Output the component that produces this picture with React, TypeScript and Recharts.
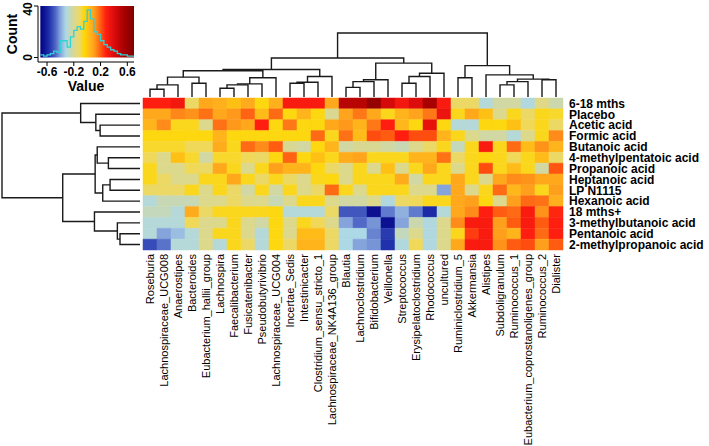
import React from 'react';
import { ScatterChart, Scatter, ComposedChart, Line, XAxis, YAxis, ReferenceArea } from 'recharts';

// column order as in the heatmap (left -> right)
const genera = [
  'Roseburia', 'Lachnospiraceae_UCG008', 'Anaerostipes', 'Bacteroides', 'Eubacterium_hallii_group',
  'Lachnospira', 'Faecalibacterium', 'Fusicatenibacter', 'Pseudobutyrivibrio', 'Lachnospiraceae_UCG004',
  'Incertae_Sedis', 'Intestinicacter', 'Clostridium_sensu_stricto_1', 'Lachnospiraceae_NK4A136_group', 'Blautia',
  'Lachnoclostridium', 'Bifidobacterium', 'Veillonella', 'Streptococcus', 'Erysipelatoclostridium',
  'Rhodococcus', 'uncultured', 'Ruminiclostridium_5', 'Akkermansia', 'Alistipes',
  'Subdoligranulum', 'Ruminococcus_1', 'Eubacterium_coprostanoligenes_group', 'Ruminococcus_2', 'Dialister',
];

// row order (top -> bottom)
const traits = [
  '6-18 mths', 'Placebo', 'Acetic acid', 'Formic acid', 'Butanoic acid', '4-methylpentatoic acid',
  'Propanoic acid', 'Heptanoic acid', 'LP N1115', 'Hexanoic acid', '18 mths+',
  '3-methylbutanoic acid', 'Pentanoic acid', '2-methylpropanoic acid',
];

// correlation values, one array per row
const mths6to18 = [0.28, 0.28, 0.32, -0.12, 0.08, 0.06, 0.02, 0.07, -0.05, 0.06, 0.3, 0.3, 0.3, 0.08, 0.5, 0.5, 0.62, 0.42, 0.32, 0.4, 0.55, 0.3, -0.12, -0.12, -0.3, -0.22, -0.22, -0.31, -0.17, -0.24];
const placebo = [0.08, 0.08, 0.14, 0.12, 0.17, 0.08, 0.11, 0.19, 0.03, 0.18, -0.05, 0.05, -0.05, -0.19, 0.09, 0.16, 0.08, -0.06, 0.05, 0.09, 0.16, 0.35, -0.06, 0.08, 0.02, -0.18, -0.06, -0.12, -0.06, -0.07];
const acetic = [0.05, 0.13, -0.06, -0.06, -0.18, 0.17, 0.11, 0.08, 0.28, -0.05, 0.16, -0.05, -0.05, 0.08, 0.11, 0.05, 0.16, 0.28, 0.04, -0.05, 0.36, -0.05, -0.3, -0.3, -0.05, -0.05, 0.02, -0.1, -0.06, -0.12];
const formic = [-0.05, -0.05, -0.05, -0.05, -0.05, 0.05, -0.05, -0.05, -0.05, -0.05, -0.05, -0.05, 0.18, -0.06, 0.17, 0.03, 0.22, 0.2, 0.28, 0.22, 0.22, 0.05, -0.06, -0.18, -0.22, -0.22, -0.3, -0.18, -0.06, 0.13];
const butanoic = [-0.07, -0.07, -0.07, -0.1, -0.1, 0.07, -0.06, 0.18, 0.13, 0.2, -0.19, -0.22, -0.05, 0.05, -0.22, -0.19, -0.19, -0.22, -0.25, -0.18, -0.12, -0.06, -0.26, -0.06, 0.3, -0.06, 0.18, 0.03, 0.12, 0.05];
const methylpentatoic = [-0.1, -0.18, 0.02, -0.07, -0.22, -0.07, -0.07, -0.1, -0.12, -0.05, 0.19, -0.05, 0.02, -0.06, 0.07, 0.09, -0.06, -0.06, -0.06, 0.05, 0.05, 0.17, -0.12, -0.06, -0.05, -0.06, -0.1, -0.06, 0.03, -0.12];
const propanoic = [-0.06, -0.18, -0.18, -0.1, -0.12, 0.08, -0.06, -0.18, -0.06, 0.1, 0.05, 0.05, -0.05, -0.12, -0.18, -0.06, -0.18, 0.02, -0.18, -0.06, 0.08, -0.06, -0.18, -0.06, 0.22, -0.06, 0.03, -0.06, -0.22, 0.21];
const heptanoic = [-0.06, -0.12, -0.18, -0.18, -0.06, -0.06, 0.08, -0.06, -0.12, -0.06, -0.12, -0.18, -0.06, -0.05, -0.18, -0.06, -0.06, -0.06, 0.07, -0.22, -0.06, -0.06, 0.08, -0.06, -0.18, 0.08, 0.13, 0.12, 0.08, 0.08];
const lpN1115 = [-0.12, -0.12, -0.12, -0.06, -0.18, -0.06, -0.12, -0.22, -0.06, -0.22, -0.06, -0.18, -0.12, 0.18, -0.06, -0.18, -0.06, -0.06, -0.06, -0.18, -0.18, -0.4, 0.08, -0.18, -0.06, 0.18, 0.04, 0.1, -0.06, 0.1];
const hexanoic = [-0.3, -0.25, -0.25, -0.25, -0.18, -0.18, -0.12, -0.18, -0.18, -0.25, -0.18, -0.06, -0.06, -0.18, -0.22, -0.22, -0.18, -0.31, -0.12, -0.1, -0.06, -0.06, 0.08, 0.1, -0.05, -0.18, 0.1, 0.18, 0.17, 0.06];
const mths18plus = [-0.26, -0.26, -0.3, 0.07, -0.12, -0.06, -0.06, -0.06, -0.06, -0.05, -0.3, -0.3, -0.3, -0.12, -0.5, -0.5, -0.65, -0.45, -0.38, -0.45, -0.58, -0.3, 0.08, 0.13, 0.28, 0.2, 0.18, 0.3, 0.12, 0.27];
const methylbutanoic = [-0.3, -0.3, -0.3, -0.1, -0.18, -0.18, -0.06, -0.18, -0.22, -0.05, -0.18, -0.06, -0.1, -0.18, -0.4, -0.47, -0.42, -0.65, -0.4, -0.24, -0.31, -0.18, 0.13, 0.3, 0.3, 0.1, 0.2, 0.3, 0.2, 0.28];
const pentanoic = [-0.3, -0.4, -0.36, -0.3, -0.18, -0.06, -0.06, -0.18, -0.3, -0.05, -0.18, 0.03, 0.03, -0.12, -0.32, -0.32, -0.44, -0.55, -0.26, -0.18, -0.31, -0.18, -0.06, 0.24, 0.3, 0.1, 0.05, 0.28, 0.18, 0.28];
const methylpropanoic = [-0.52, -0.46, -0.3, -0.3, -0.18, -0.3, -0.06, -0.12, -0.3, -0.05, -0.12, 0.05, 0.05, -0.12, -0.32, -0.4, -0.42, -0.57, -0.31, -0.1, -0.31, -0.18, 0.08, 0.3, 0.3, 0.12, 0.2, 0.22, 0.1, 0.2];

const corr = [
  mths6to18, placebo, acetic, formic, butanoic, methylpentatoic, propanoic,
  heptanoic, lpN1115, hexanoic, mths18plus, methylbutanoic, pentanoic, methylpropanoic,
];

// hclust-style merges: negative = leaf (1-based), positive = earlier merge, then height
const colMerge: [number, number, number][] = [
  [-1, -2, 0.12], [1, -3, 0.19], [-4, -5, 0.215], [2, 3, 0.31],
  [-6, -7, 0.137], [5, -8, 0.19], [6, -9, 0.205], [7, -10, 0.3],
  [4, 8, 0.41], [-11, -12, 0.215], [10, -13, 0.23], [11, -14, 0.32],
  [9, 12, 0.43], [-15, -16, 0.15], [14, -17, 0.24], [15, -18, 0.27],
  [-19, -20, 0.215], [17, -21, 0.32], [18, -22, 0.37], [16, 19, 0.53],
  [13, 20, 0.61], [-23, -24, 0.3], [-26, -27, 0.19], [23, -28, 0.24],
  [-29, -30, 0.27], [24, 25, 0.28], [-25, 26, 0.345], [22, 27, 0.49],
  [21, 28, 1.0],
];

const rowMerge: [number, number, number][] = [
  [-3, -4, 0.289], [-2, 1, 0.32], [-1, 2, 0.43], [-6, -7, 0.229],
  [-5, 4, 0.31], [-8, -9, 0.217], [6, -10, 0.27], [5, 7, 0.325],
  [-13, -14, 0.145], [-12, 9, 0.164], [-11, 10, 0.33], [8, 11, 0.56],
  [3, 12, 1.0],
];

// colour key histogram (bin lower edges and counts)
const histEdges = [-0.7, -0.65, -0.6, -0.55, -0.5, -0.45, -0.4, -0.35, -0.3, -0.25, -0.2, -0.15, -0.1, -0.05, 0, 0.05, 0.1, 0.15, 0.2, 0.25, 0.3, 0.35, 0.4, 0.45, 0.5, 0.55, 0.6, 0.65, 0.7];
const histCounts = [2, 1, 2, 3, 5, 4, 13, 13, 8, 16, 21, 24, 22, 28, 37, 30, 20, 18, 13, 10, 8, 6, 5, 3, 2, 2, 1, 1, 1];
const keyTicksX = [-0.6, -0.2, 0.2, 0.6];
const keyTicksY = [0, 20, 40];

const palette: [number, string][] = [
  [-0.7, '#000080'], [-0.58, '#1c2aa8'], [-0.48, '#4a62c4'], [-0.4, '#86a4dc'],
  [-0.32, '#add8e6'], [-0.25, '#c8d8b4'], [-0.18, '#dcd88c'], [-0.1, '#f0d858'],
  [-0.04, '#ffd700'], [0.04, '#ffb81c'], [0.1, '#ffa01c'], [0.15, '#ff7f18'],
  [0.21, '#ff5510'], [0.28, '#ff1e10'], [0.4, '#dc0c0c'], [0.55, '#a80000'], [0.7, '#800000'],
];

const rgb = (h: string) => [1, 3, 5].map((i) => parseInt(h.slice(i, i + 2), 16));

function corrColor(v: number) {
  if (v <= palette[0][0]) return palette[0][1];
  for (let i = 1; i < palette.length; i++) {
    const [v1, c1] = palette[i];
    if (v <= v1) {
      const [v0, c0] = palette[i - 1];
      const t = (v - v0) / (v1 - v0);
      const a = rgb(c0);
      const b = rgb(c1);
      const m = a.map((x, k) => Math.round(x + (b[k] - x) * t));
      return `rgb(${m[0]},${m[1]},${m[2]})`;
    }
  }
  return palette[palette.length - 1][1];
}

type Pt = { p: number; h: number };

// turn merges into U-shaped segments; leaf i sits at i + 0.5
function dendroSegments(merge: [number, number, number][]) {
  const nodes: Pt[] = [];
  const get = (k: number): Pt => (k < 0 ? { p: -k - 0.5, h: 0 } : nodes[k - 1]);
  return merge.map(([a, b, h]) => {
    const A = get(a);
    const B = get(b);
    nodes.push({ p: (A.p + B.p) / 2, h });
    return [A, { p: A.p, h }, { p: B.p, h }, B];
  });
}

const colSegs = dendroSegments(colMerge);
const rowSegs = dendroSegments(rowMerge);

const cells = corr.flatMap((row, r) => row.map((v, c) => ({ r, c, v, x: c + 0.5, y: r + 0.5 })));
const colTicks = genera.map((_, i) => i + 0.5);
const rowTicks = traits.map((_, i) => i + 0.5);
const histData = histEdges.map((v, i) => ({ v, n: histCounts[i] }));

const FONT = "'Liberation Sans', Arial, Helvetica, sans-serif";
const abs: React.CSSProperties = { position: 'absolute', left: 0, top: 0 };
const lineStyle = { stroke: '#1a1a1a', strokeWidth: 1.4, fill: 'none' };
const noDot = () => <g />;

const GenusTick = (props: any) => {
  const { x, y, payload } = props;
  return (
    <text
      x={x}
      y={y}
      transform={`rotate(-90 ${x} ${y})`}
      textAnchor="end"
      dy="0.35em"
      fontSize={11}
      fill="#000"
    >
      {genera[Math.floor(payload.value)]}
    </text>
  );
};

const TraitTick = (props: any) => {
  const { x, y, payload } = props;
  return (
    <text x={x} y={y} dy="0.36em" textAnchor="start" fontSize={12} fontWeight={700} fill="#000">
      {traits[Math.floor(payload.value)]}
    </text>
  );
};

const CountTick = (props: any) => {
  const { x, y, payload } = props;
  return (
    <text
      x={x}
      y={y}
      transform={`rotate(-90 ${x} ${y})`}
      textAnchor="middle"
      fontSize={12}
      fontWeight={700}
      fill="#000"
    >
      {payload.value}
    </text>
  );
};

export default function App() {
  return (
    <div style={{ ...abs, width: 709, height: 446, background: '#fff', fontFamily: FONT }}>
      {/* colour key with histogram */}
      <div style={abs}>
        <ComposedChart width={150} height={100} data={histData} margin={{ top: 6, right: 16, bottom: 8, left: 8 }}>
          <defs>
            <linearGradient id="keyGrad" x1="0" y1="0" x2="1" y2="0">
              {palette.map(([v, c]) => (
                <stop key={v} offset={(v + 0.7) / 1.4} stopColor={c} />
              ))}
            </linearGradient>
          </defs>
          <XAxis
            type="number"
            dataKey="v"
            domain={[-0.735, 0.7]}
            ticks={keyTicksX}
            allowDataOverflow
            height={30}
            tickSize={4}
            tickMargin={1}
            stroke="#000"
            tick={{ fill: '#000', fontSize: 12, fontWeight: 700 }}
            label={{ value: 'Value', position: 'insideBottom', offset: 1, fill: '#000', fontSize: 14, fontWeight: 700 }}
          />
          <YAxis
            type="number"
            domain={[-3.5, 40]}
            ticks={keyTicksY}
            allowDataOverflow
            width={30}
            tickSize={4}
            tickMargin={2}
            stroke="#000"
            tick={<CountTick />}
            label={{
              value: 'Count',
              angle: -90,
              position: 'insideLeft',
              offset: 4,
              fill: '#000',
              fontSize: 14,
              fontWeight: 700,
              style: { textAnchor: 'middle' },
            }}
          />
          <ReferenceArea x1={-0.7} x2={0.7} y1={0} y2={40} fill="url(#keyGrad)" fillOpacity={1} stroke="none" ifOverflow="visible" />
          <Line
            dataKey="n"
            type="stepAfter"
            stroke="#2fd3d3"
            strokeWidth={1.3}
            dot={false}
            isAnimationActive={false}
          />
        </ComposedChart>
      </div>

      {/* column dendrogram */}
      <div style={abs}>
        <ScatterChart width={709} height={100} margin={{ top: 33, right: 146, bottom: 3, left: 143 }}>
          <XAxis type="number" dataKey="p" domain={[0, 30]} hide />
          <YAxis type="number" dataKey="h" domain={[0, 1]} hide />
          {colSegs.map((seg, i) => (
            <Scatter key={i} data={seg} line={lineStyle} lineType="joint" shape={noDot} fill="#1a1a1a" isAnimationActive={false} />
          ))}
        </ScatterChart>
      </div>

      {/* row dendrogram */}
      <div style={abs}>
        <ScatterChart width={143} height={446} margin={{ top: 98, right: 3, bottom: 196, left: 2 }}>
          <XAxis type="number" dataKey="h" domain={[0, 1]} reversed hide />
          <YAxis type="number" dataKey="p" domain={[0, 14]} reversed hide />
          {rowSegs.map((seg, i) => (
            <Scatter key={i} data={seg} line={lineStyle} lineType="joint" shape={noDot} fill="#1a1a1a" isAnimationActive={false} />
          ))}
        </ScatterChart>
      </div>

      {/* heatmap */}
      <div style={abs}>
        <ScatterChart width={709} height={446} margin={{ top: 98, right: 0, bottom: 0, left: 143 }}>
          <XAxis
            type="number"
            dataKey="x"
            domain={[0, 30]}
            ticks={colTicks}
            interval={0}
            height={196}
            tick={<GenusTick />}
            tickLine={false}
            axisLine={false}
            tickSize={0}
            tickMargin={4}
          />
          <YAxis
            type="number"
            dataKey="y"
            domain={[0, 14]}
            reversed
            orientation="right"
            ticks={rowTicks}
            interval={0}
            width={146}
            tick={<TraitTick />}
            tickLine={false}
            axisLine={false}
            tickSize={0}
            tickMargin={6}
          />
          {cells.map((d) => (
            <ReferenceArea
              key={`${d.r}-${d.c}`}
              x1={d.c}
              x2={d.c + 1}
              y1={d.r}
              y2={d.r + 1}
              fill={corrColor(d.v)}
              fillOpacity={1}
              stroke={corrColor(d.v)}
              strokeWidth={0.5}
            />
          ))}
          <Scatter data={cells} shape={noDot} isAnimationActive={false} />
        </ScatterChart>
      </div>
    </div>
  );
}
